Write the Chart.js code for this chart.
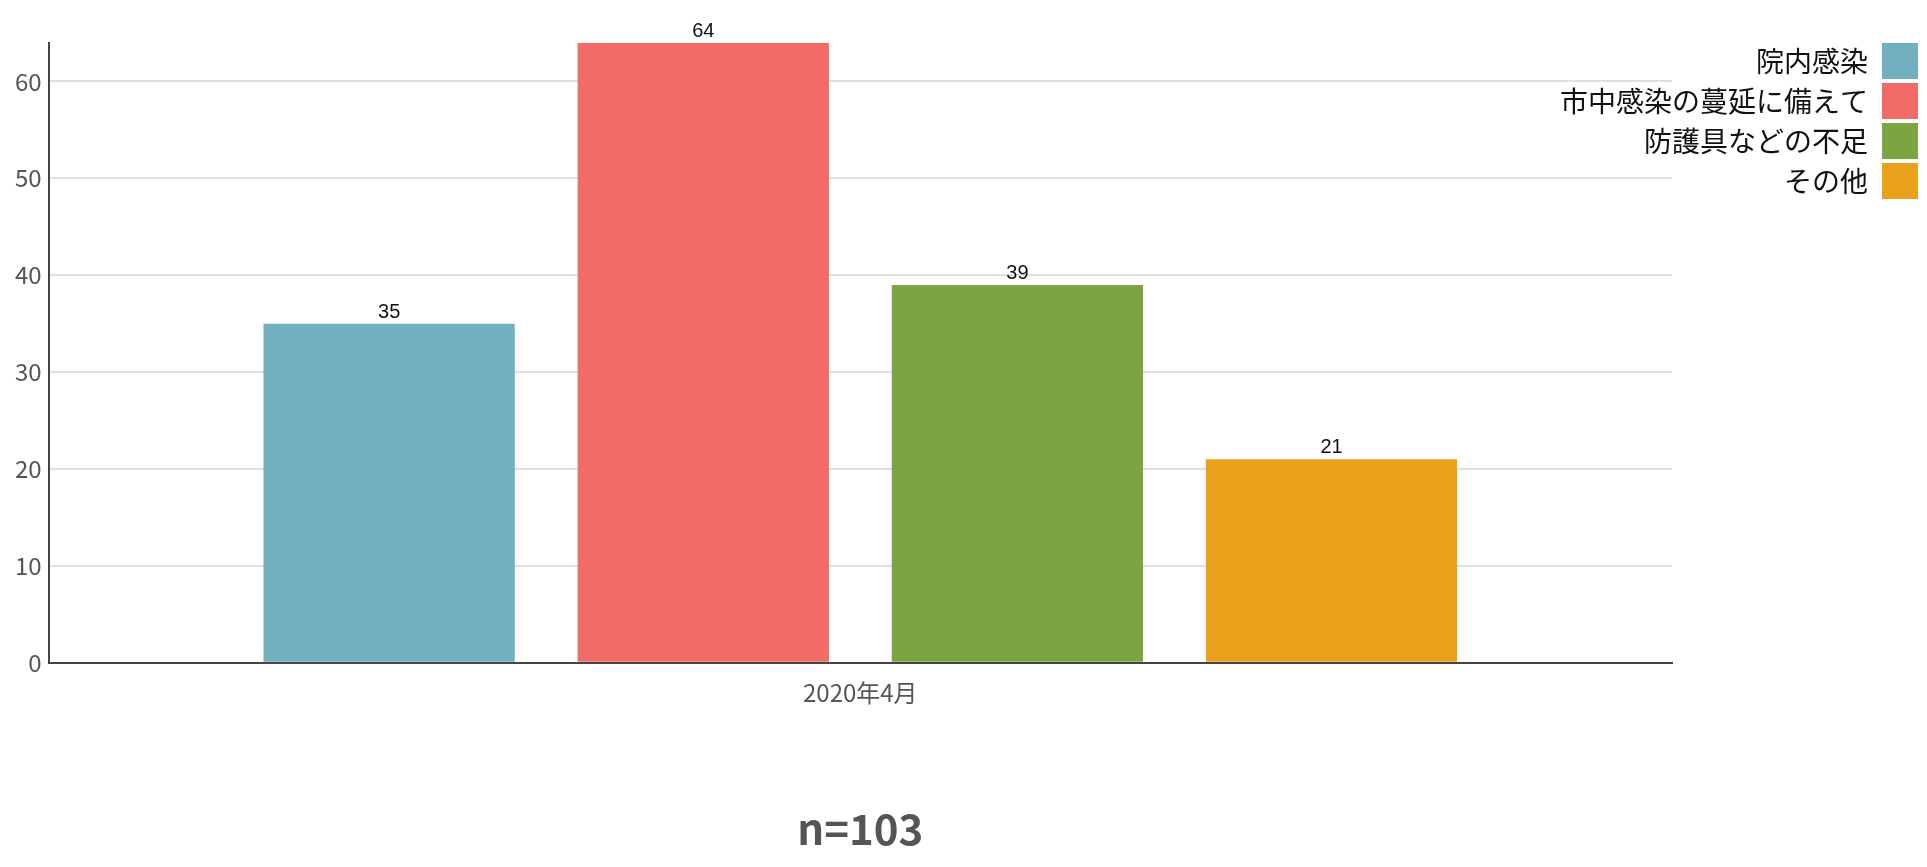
<!DOCTYPE html>
<html>
<head>
<meta charset="utf-8">
<script src="https://cdn.jsdelivr.net/npm/chart.js@4"></script>
<style>
  html, body { margin: 0; padding: 0; background: #fff; }
  #wrap { width: 1927px; height: 867px; }
</style>
</head>
<body>
<div id="wrap"><canvas id="chart"></canvas></div>
<script>
const categories = ['2020年4月'];
const seriesNames = ['院内感染', '市中感染の蔓延に備えて', '防護具などの不足', 'その他'];
const seriesValues = [35, 64, 39, 21];
const seriesColors = ['#72b0c0', '#f16b67', '#7da442', '#eaa21c'];
const yTicks = [0, 10, 20, 30, 40, 50, 60];
const sampleLabel = 'n=103';

const jpFont = '"Noto Sans CJK JP", "Noto Sans", sans-serif';

// numbers above each bar
const valueLabels = {
  id: 'valueLabels',
  afterDatasetsDraw(chart) {
    const ctx = chart.ctx;
    ctx.save();
    ctx.font = '20px "Liberation Sans", Arial, sans-serif';
    ctx.fillStyle = '#111';
    ctx.textAlign = 'center';
    ctx.textBaseline = 'alphabetic';
    chart.data.datasets.forEach((ds, i) => {
      chart.getDatasetMeta(i).data.forEach((bar, j) => {
        ctx.fillText(ds.data[j], bar.x, bar.y - 6);
      });
    });
    ctx.restore();
  }
};

// legend only reserves 255px on the right, but its long labels run over the plot
const wideLegend = {
  id: 'wideLegend',
  afterLayout(chart) {
    const lg = chart.legend;
    lg.left = 1530;
    lg.right = 1922;
    lg.width = lg.right - lg.left;
  }
};

const ctx = document.getElementById('chart').getContext('2d');
new Chart(ctx, {
  type: 'bar',
  data: {
    labels: categories,
    datasets: seriesNames.map((name, i) => ({
      label: name,
      data: [seriesValues[i]],
      backgroundColor: seriesColors[i],
      categoryPercentage: 0.774,
      barPercentage: 0.8,
    }))
  },
  options: {
    responsive: true,
    maintainAspectRatio: false,
    animation: false,
    devicePixelRatio: 1,
    layout: { padding: { left: 8, top: 39, right: 0, bottom: 0 } },
    plugins: {
      tooltip: { enabled: false },
      legend: {
        position: 'right',
        align: 'start',
        rtl: true,
        maxWidth: 255,
        labels: {
          boxWidth: 36,
          boxHeight: 36,
          padding: 4,
          color: '#111',
          font: { family: jpFont, size: 28 },
        }
      }
    },
    scales: {
      x: {
        grid: { display: false },
        border: { color: '#444', width: 2 },
        ticks: { color: '#555', padding: 8, font: { family: jpFont, size: 24 } },
        title: {
          display: true,
          text: sampleLabel,
          color: '#555',
          font: { family: jpFont, size: 42, weight: 'bold' },
          padding: { top: 88, bottom: 13 },
        }
      },
      y: {
        min: 0,
        max: Math.max(...seriesValues),
        afterBuildTicks: (scale) => { scale.ticks = yTicks.map(v => ({ value: v })); },
        border: { color: '#444', width: 2 },
        grid: { color: '#e0e0e0', lineWidth: 2, drawTicks: false },
        ticks: { color: '#555', padding: 7, font: { family: jpFont, size: 24, lineHeight: 2.97 } },
      }
    }
  },
  plugins: [valueLabels, wideLegend]
});
</script>
</body>
</html>
